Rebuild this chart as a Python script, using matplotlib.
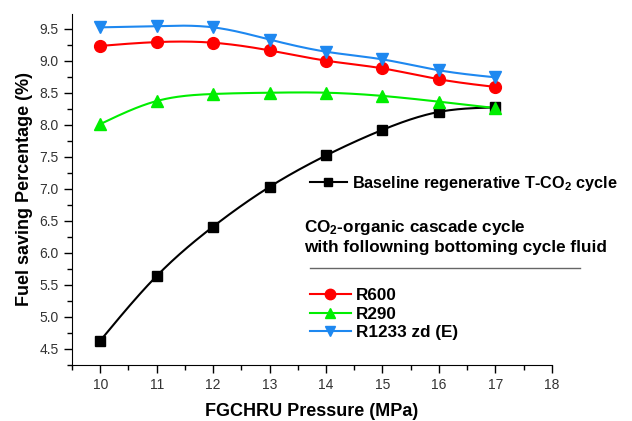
import numpy as np
import matplotlib as mpl
from matplotlib import pyplot as plt
from matplotlib.lines import Line2D
from matplotlib.ticker import MultipleLocator

pressure = [10, 11, 12, 13, 14, 15, 16, 17]
baseline = [4.63, 5.64, 6.41, 7.03, 7.52, 7.92, 8.20, 8.27]
r600 = [9.23, 9.29, 9.28, 9.16, 9.00, 8.88, 8.71, 8.59]
r290 = [8.01, 8.37, 8.48, 8.50, 8.50, 8.45, 8.36, 8.26]
r1233 = [9.52, 9.54, 9.52, 9.33, 9.14, 9.02, 8.85, 8.74]

plt.rcParams["font.family"] = "Liberation Sans"
plt.rcParams["mathtext.fontset"] = "custom"
plt.rcParams["mathtext.rm"] = "Liberation Sans:bold"
plt.rcParams["mathtext.default"] = "rm"


def smooth(x, y, n=200):
    # natural cubic spline through the measured points, only for the drawn line
    x = np.asarray(x, float)
    y = np.asarray(y, float)
    k = len(x)
    h = np.diff(x)
    A = np.zeros((k, k))
    b = np.zeros(k)
    A[0, 0] = A[-1, -1] = 1
    for i in range(1, k - 1):
        A[i, i - 1] = h[i - 1]
        A[i, i] = 2 * (h[i - 1] + h[i])
        A[i, i + 1] = h[i]
        b[i] = 6 * ((y[i + 1] - y[i]) / h[i] - (y[i] - y[i - 1]) / h[i - 1])
    m = np.linalg.solve(A, b)
    xs = np.linspace(x[0], x[-1], n)
    idx = np.clip(np.searchsorted(x, xs) - 1, 0, k - 2)
    t0 = xs - x[idx]
    t1 = x[idx + 1] - xs
    hi = h[idx]
    ys = (m[idx] * t1**3 / (6 * hi) + m[idx + 1] * t0**3 / (6 * hi)
          + (y[idx] / hi - m[idx] * hi / 6) * t1
          + (y[idx + 1] / hi - m[idx + 1] * hi / 6) * t0)
    return xs, ys


fig = plt.figure(figsize=(6.32, 4.21), dpi=100)
ax = fig.add_axes([0.114, 0.133, 0.759, 0.834])

series = [
    (baseline, "black", "s", 7.5),
    (r600, "#ff0000", "o", 8.5),
    (r290, "#00ee00", "^", 9),
    (r1233, "#1e88f0", "v", 9),
]
for vals, col, mk, ms in series:
    xs, ys = smooth(pressure, vals)
    ax.plot(xs, ys, color=col, lw=1.5, zorder=2)
    ax.plot(pressure, vals, ls="none", marker=mk, ms=ms, color=col, zorder=3)

ax.set_xlim(9.5, 18)
ax.set_ylim(4.25, 9.73)
ax.xaxis.set_major_locator(MultipleLocator(1))
ax.xaxis.set_minor_locator(MultipleLocator(0.5))
ax.yaxis.set_major_locator(MultipleLocator(0.5))
ax.yaxis.set_minor_locator(MultipleLocator(0.25))
ax.set_xticks(range(10, 19))
ax.tick_params(which="major", direction="out", length=6, width=1, labelsize=10,
               labelcolor="#333333")
ax.tick_params(which="minor", direction="out", length=3.5, width=1)
ax.spines["top"].set_visible(False)
ax.spines["right"].set_visible(False)
ax.set_xlabel("FGCHRU Pressure (MPa)", fontsize=13, fontweight="bold", labelpad=8)
ax.set_ylabel("Fuel saving Percentage (%)", fontsize=13, fontweight="bold", labelpad=5)

fs = 12.3
h_base = Line2D([], [], color="black", lw=1.5, marker="s", ms=6)
leg1 = ax.legend([h_base], [r"Baseline regenerative T-CO$_2$ cycle"],
                 loc="center left", bbox_to_anchor=(0.49, 0.565),
                 bbox_transform=fig.transFigure, frameon=False,
                 handlelength=2.3, handletextpad=0.3, borderpad=0, borderaxespad=0,
                 prop={"weight": "bold", "size": 11.7})
ax.add_artist(leg1)

fig.text(0.481, 0.438, "CO$_2$-organic cascade cycle\nwith followning bottoming cycle fluid",
         ha="left", va="center", fontsize=fs, fontweight="bold", linespacing=1.3)
fig.add_artist(Line2D([0.49, 0.918], [0.363, 0.363], color="#666666", lw=1))

handles = [
    Line2D([], [], color="#ff0000", lw=1.5, marker="o", ms=7.5),
    Line2D([], [], color="#00ee00", lw=1.5, marker="^", ms=7.5),
    Line2D([], [], color="#1e88f0", lw=1.5, marker="v", ms=7.5),
]
ax.legend(handles, ["R600", "R290", "R1233 zd (E)"],
          loc="center left", bbox_to_anchor=(0.49, 0.254),
          bbox_transform=fig.transFigure, frameon=False,
          handlelength=2.4, handletextpad=0.3, borderpad=0, borderaxespad=0,
          labelspacing=0.2, prop={"weight": "bold", "size": fs})

fig.savefig("out.png", dpi=100)
